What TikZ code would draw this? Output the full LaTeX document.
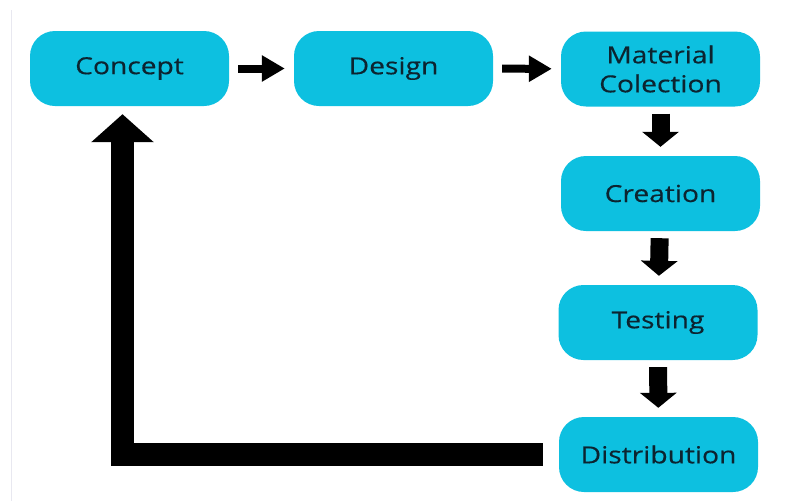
\documentclass[tikz,border=0pt]{standalone}
\usepackage{fontspec}
\setmainfont[FakeStretch=1.2,FakeBold=0.4]{Open Sans}
\usepackage{xcolor}
\usetikzlibrary{arrows.meta,calc,positioning}
\definecolor{boxcyan}{RGB}{13,192,224}
\definecolor{boxtext}{RGB}{12,36,48}
\definecolor{edgegray}{RGB}{232,232,240}

\tikzset{
	stage/.style={fill=boxcyan, rounded corners=25pt, minimum width=199pt, minimum height=75pt, text=boxtext, font=\fontsize{23.5}{29}\selectfont, align=center, inner sep=0pt},
	flowh/.style={line width=8pt, -{Triangle[length=23pt,width=25pt]}, shorten <=9pt, shorten >=9pt},
	flowv/.style={line width=18pt, -{Triangle[length=15pt,width=36pt]}, shorten <=7pt, shorten >=9pt},
	loopback/.style={line width=23pt, line join=miter, -{Triangle[length=28pt,width=61pt]}, shorten <=16pt, shorten >=8pt}
}

\begin{document}
\begin{tikzpicture}[x=1pt,y=-1pt]
		\useasboundingbox (0,0) rectangle (789,501);
		\draw[edgegray, line width=1.5pt] (11.5,10) -- (11.5,501);
		
		\node[stage] (concept) at (129.5,68.5) {Concept};
		\node[stage] (design) at (393.5,68.5) {Design};
		\node[stage] (material) at (660.5,69) {Material\\Colection};
		\node[stage] (creation) at (660.5,193.5) {Creation};
		\node[stage] (testing) at (658,322.5) {Testing};
		\node[stage] (distribution) at (658.5,454.5) {Distribution};
		
		\draw[flowh] (concept) -- (design);
		\draw[flowh] (design) -- (material);
		\draw[flowv] (material) -- (creation);
		\draw[flowv] (creation) -- (testing);
		\draw[flowv] (testing) -- (distribution);
		
		% back to the start
		\draw[loopback] (distribution.west) -| ([xshift=-7pt]concept.south);
	\end{tikzpicture}
\end{document}
